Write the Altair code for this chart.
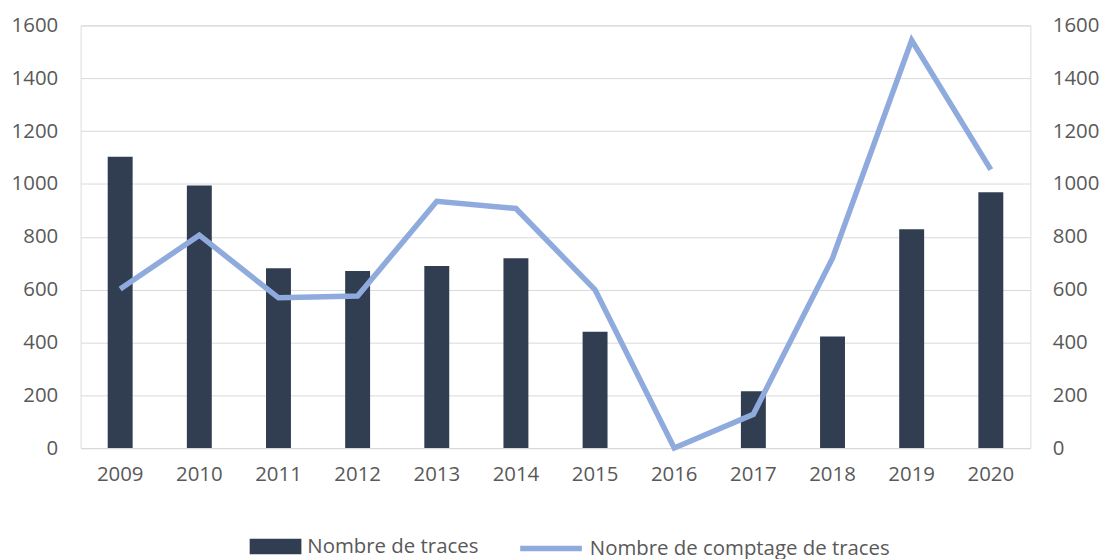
import altair as alt
import pandas as pd

years = ["2009", "2010", "2011", "2012", "2013", "2014", "2015", "2016", "2017", "2018", "2019", "2020"]
traces = [1103, 994, 681, 670, 689, 719, 440, 0, 215, 422, 828, 968]
comptage = [602, 806, 569, 576, 934, 907, 599, 0, 128, 719, 1544, 1054]

s1 = "Nombre de traces"
s2 = "Nombre de comptage de traces"

df = pd.DataFrame({"year": years, "traces": traces, "comptage": comptage,
                   "s1": [s1] * len(years), "s2": [s2] * len(years)})

FONT = "Open Sans"
FS = 20.5
TXT = "#595959"
GRID = "#d9d9d9"
P = 0.685
TICKS = list(range(0, 1601, 200))

x = alt.X("year:N", title=None, sort=years,
          scale=alt.Scale(paddingInner=P, paddingOuter=P / 2),
          axis=alt.Axis(labelAngle=0, ticks=False, domainColor=GRID, domainWidth=1,
                        labelPadding=17, labelFontSize=FS, labelColor=TXT, labelFont=FONT, grid=False))

bars = alt.Chart(df).mark_bar().encode(
    x=x,
    y=alt.Y("traces:Q", title=None,
            scale=alt.Scale(domain=[0, 1600]),
            axis=alt.Axis(values=TICKS, format="d", domain=False, ticks=False,
                          labelPadding=23, labelFontSize=FS, labelColor=TXT, labelFont=FONT,
                          grid=True, gridColor=GRID, gridWidth=1)),
    fill=alt.Fill("s1:N", scale=alt.Scale(domain=[s1], range=["#313e51"]),
                  legend=alt.Legend(title=None, orient="none", legendX=169, legendY=497,
                                    symbolType="M-1,-0.3H1V0.3H-1Z", symbolSize=2704,
                                    labelOffset=5, padding=0,
                                    labelFontSize=FS, labelColor=TXT, labelFont=FONT, labelLimit=400)),
)

line = alt.Chart(df).mark_line(strokeWidth=5.5).encode(
    x=x,
    y=alt.Y("comptage:Q", title=None,
            scale=alt.Scale(domain=[0, 1600]),
            axis=alt.Axis(orient="right", values=TICKS, format="d", domain=False, ticks=False,
                          labelPadding=22, labelFontSize=FS, labelColor=TXT, labelFont=FONT, grid=False)),
    stroke=alt.Stroke("s2:N", scale=alt.Scale(domain=[s2], range=["#8faadc"]),
                      legend=alt.Legend(title=None, orient="none", legendX=439, legendY=492,
                                        symbolType="stroke", symbolSize=3844, symbolStrokeWidth=5.5,
                                        symbolStrokeColor="#8faadc",
                                        labelOffset=5, padding=0,
                                        labelFontSize=FS, labelColor=TXT, labelFont=FONT, labelLimit=400)),
)

chart = alt.layer(bars, line).resolve_scale(y="independent").properties(
    width=955, height=425,
    autosize=alt.AutoSizeParams(type="none"),
    padding={"left": 73, "top": 16, "right": 72, "bottom": 110},
).configure_view(stroke=None).configure(background="white")

chart.save("out.html", embed_options={"renderer": "svg", "actions": False})
